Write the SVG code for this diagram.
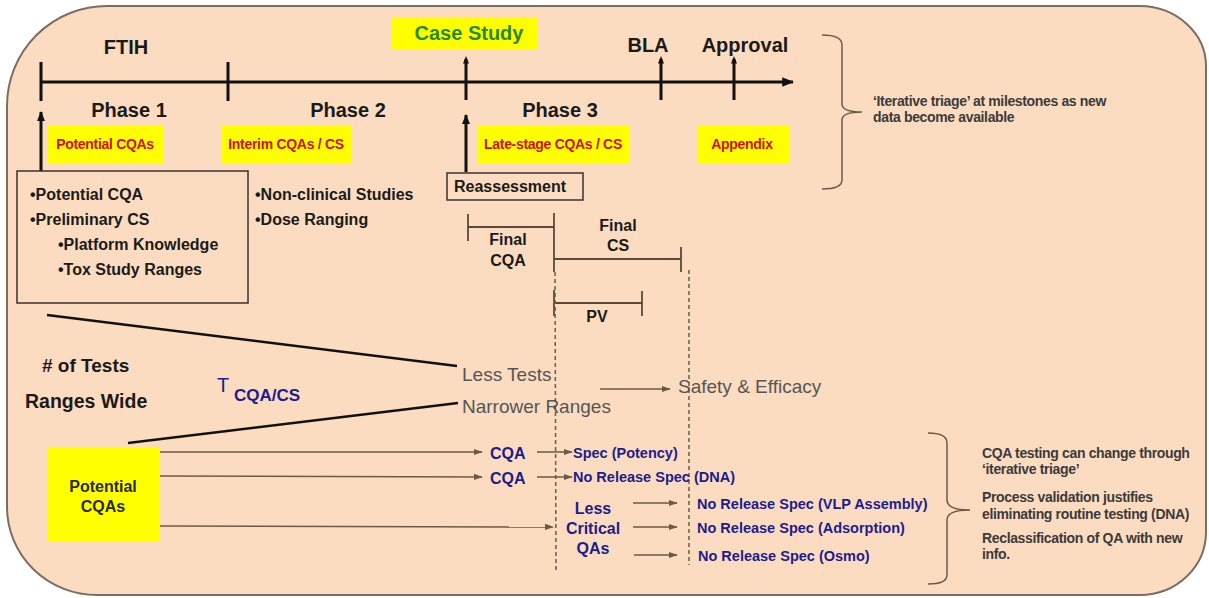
<svg xmlns="http://www.w3.org/2000/svg" width="1209" height="598" viewBox="0 0 1209 598">
<defs>
<style>
text{font-family:"Liberation Sans",Arial,sans-serif}
.b{font-weight:bold}
.blk{fill:#1a1a1a}
.red{fill:#d01010;font-weight:bold;font-size:14px;letter-spacing:-0.3px}
.blue{fill:#1c1c8c;font-weight:bold}
.gray{fill:#555;font-size:19px}
.note{fill:#3a3a3a;font-weight:bold;font-size:14px;letter-spacing:-0.35px}
.yel{fill:#ffff00}
.tl{stroke:#111;stroke-width:3;fill:none}
.br{stroke:#5a4838;stroke-width:1.8;fill:none}
.th{stroke:#6b5a48;stroke-width:1.5;fill:none}
.dash{stroke:#6b5a48;stroke-width:1.5;stroke-dasharray:4 3;fill:none}
.brace{stroke:#6b5a48;stroke-width:1.5;fill:none}
</style>
<marker id="aBig" viewBox="0 0 10 10" refX="9" refY="5" markerWidth="4" markerHeight="4" orient="auto" markerUnits="strokeWidth"><path d="M0,1 L10,5 L0,9 Z" fill="#111"/></marker>
<marker id="aUp" viewBox="0 0 10 10" refX="9" refY="5" markerWidth="3.3" markerHeight="3.3" orient="auto" markerUnits="strokeWidth"><path d="M0,1 L10,5 L0,9 Z" fill="#111"/></marker>
<marker id="aDot" viewBox="0 0 10 10" refX="6" refY="5" markerWidth="2.5" markerHeight="2.5" orient="auto" markerUnits="strokeWidth"><path d="M0,1 L10,5 L0,9 Z" fill="#111"/></marker>
<marker id="aThin" viewBox="0 0 10 10" refX="9" refY="5" markerWidth="6" markerHeight="6" orient="auto" markerUnits="strokeWidth"><path d="M0,1.5 L10,5 L0,8.5 Z" fill="#6b5a48"/></marker>
</defs>

<path id="bg" d="M107,6 H1140 A67,60 0 0 1 1206,66 V532 A66,63 0 0 1 1140,595 H97 A90,88 0 0 1 7,507 V106 A100,100 0 0 1 107,6 Z" fill="#fcdcc0" stroke="#7a6e62" stroke-width="2"/>

<g id="connectors">
  <line class="tl" x1="40" y1="82" x2="793" y2="82" marker-end="url(#aBig)"/>
  <line class="tl" x1="41" y1="62" x2="41" y2="101"/>
  <line class="tl" x1="228" y1="62" x2="228" y2="101"/>
  <line class="tl" x1="466" y1="100" x2="466" y2="59" marker-end="url(#aDot)"/>
  <line class="tl" x1="661" y1="100" x2="661" y2="59" marker-end="url(#aDot)"/>
  <line class="tl" x1="734" y1="100" x2="734" y2="59" marker-end="url(#aDot)"/>
  <line class="tl" x1="41" y1="171" x2="41" y2="112" marker-end="url(#aUp)"/>
  <line class="tl" x1="466" y1="172" x2="466" y2="115" marker-end="url(#aUp)"/>
  <line class="br" x1="468" y1="227" x2="554" y2="227"/>
  <line class="br" x1="468" y1="214" x2="468" y2="241"/>
  <line class="br" x1="554" y1="213" x2="554" y2="272"/>
  <line class="br" x1="554" y1="259" x2="681" y2="259"/>
  <line class="br" x1="681" y1="247" x2="681" y2="272"/>
  <line class="br" x1="554" y1="290" x2="554" y2="316"/>
  <line class="br" x1="554" y1="303" x2="642" y2="303"/>
  <line class="br" x1="642" y1="291" x2="642" y2="316"/>
  <line class="dash" x1="555" y1="272" x2="556" y2="570"/>
  <line class="dash" x1="689" y1="270" x2="689" y2="565"/>
  <line x1="47" y1="315" x2="457" y2="366" stroke="#111" stroke-width="2.5"/>
  <line x1="128" y1="443" x2="458" y2="403" stroke="#111" stroke-width="2.5"/>
  <line class="th" x1="600" y1="389" x2="670" y2="389" marker-end="url(#aThin)"/>
  <line class="th" x1="160" y1="452" x2="482" y2="452" marker-end="url(#aThin)"/>
  <line class="th" x1="160" y1="476" x2="482" y2="477" marker-end="url(#aThin)"/>
  <line class="th" x1="160" y1="526" x2="553" y2="527" marker-end="url(#aThin)"/>
  <line class="th" x1="537" y1="452" x2="572" y2="452" marker-end="url(#aThin)"/>
  <line class="th" x1="537" y1="477" x2="572" y2="477" marker-end="url(#aThin)"/>
  <line class="th" x1="633" y1="503" x2="677" y2="503" marker-end="url(#aThin)"/>
  <line class="th" x1="633" y1="527" x2="677" y2="527" marker-end="url(#aThin)"/>
  <line class="th" x1="634" y1="555" x2="677" y2="555" marker-end="url(#aThin)"/>
  <path class="brace" d="M822,35 Q842,35 842,45 V104 Q842,112 862,112 Q842,112 842,120 V180 Q842,189 822,189"/>
  <path class="brace" d="M928,433 Q947,433 947,443 V500 Q947,510 970,510 Q947,510 947,520 V575 Q947,584 928,584"/>
</g>

<g id="milestones">
  <text class="b blk" x="126" y="54" font-size="20" text-anchor="middle">FTIH</text>
  <rect class="yel" x="392" y="17" width="146" height="33"/>
  <text class="b" x="469" y="40" font-size="20" text-anchor="middle" fill="#2a8a2a">Case Study</text>
  <text class="b blk" x="648" y="52" font-size="20" text-anchor="middle">BLA</text>
  <text class="b blk" x="745" y="52" font-size="20" text-anchor="middle">Approval</text>
  <text class="b blk" x="129" y="117" font-size="20" text-anchor="middle">Phase 1</text>
  <text class="b blk" x="348" y="117" font-size="20" text-anchor="middle">Phase 2</text>
  <text class="b blk" x="560" y="117" font-size="20" text-anchor="middle">Phase 3</text>
</g>

<g id="phase-labels">
  <rect class="yel" x="47" y="125" width="116" height="38"/>
  <text class="red" x="105" y="149" text-anchor="middle">Potential CQAs</text>
  <rect class="yel" x="222" y="125" width="130" height="38"/>
  <text class="red" x="286" y="149" text-anchor="middle">Interim CQAs / CS</text>
  <rect class="yel" x="477" y="125" width="153" height="38"/>
  <text class="red" x="553" y="149" text-anchor="middle">Late-stage CQAs / CS</text>
  <rect class="yel" x="697" y="125" width="93" height="38"/>
  <text class="red" x="742" y="149" text-anchor="middle">Appendix</text>
</g>

<g id="phase1-box">
  <rect x="17" y="171" width="231" height="132" fill="none" stroke="#3a3030" stroke-width="1.5"/>
  <text class="b blk" font-size="16"><tspan x="30" y="200">•Potential CQA</tspan><tspan x="30" y="225">•Preliminary CS</tspan><tspan x="58" y="250">•Platform Knowledge</tspan><tspan x="58" y="275">•Tox Study Ranges</tspan></text>
</g>

<g id="phase2-notes">
  <text class="b blk" font-size="16"><tspan x="255" y="200">•Non-clinical Studies</tspan><tspan x="255" y="225">•Dose Ranging</tspan></text>
</g>

<g id="reassessment">
  <rect x="447" y="173" width="136" height="27" fill="none" stroke="#3a3030" stroke-width="1.5"/>
  <text class="b blk" x="454" y="192" font-size="16">Reassessment</text>
</g>

<g id="final-labels">
  <text class="b blk" font-size="16" text-anchor="middle"><tspan x="508" y="245">Final</tspan><tspan x="508" y="266">CQA</tspan></text>
  <text class="b blk" font-size="16" text-anchor="middle"><tspan x="618" y="231">Final</tspan><tspan x="618" y="251">CS</tspan></text>
  <text class="b blk" x="597" y="322" font-size="16" text-anchor="middle">PV</text>
</g>

<g id="funnel">
  <text class="b blk" x="42" y="372" font-size="19"># of Tests</text>
  <text class="b blk" x="25" y="408" font-size="19.5">Ranges Wide</text>
  <text x="217" y="392" font-size="20" fill="#1c1c8c">T</text>
  <text class="blue" x="234" y="401" font-size="17">CQA/CS</text>
  <text class="gray" x="462" y="381">Less Tests</text>
  <text class="gray" x="462" y="413">Narrower Ranges</text>
  <text class="gray" x="678" y="393">Safety &amp; Efficacy</text>
</g>

<g id="potential-cqas">
  <rect class="yel" x="47" y="447" width="113" height="95"/>
  <text class="b" fill="#2a2a2a" font-size="16" text-anchor="middle"><tspan x="103" y="492">Potential</tspan><tspan x="103" y="512">CQAs</tspan></text>
</g>

<g id="outcomes">
  <text class="blue" x="490" y="459" font-size="16">CQA</text>
  <text class="blue" x="490" y="484" font-size="16">CQA</text>
  <text class="blue" x="573" y="458" font-size="14.5">Spec (Potency)</text>
  <text class="blue" x="573" y="482" font-size="14.5">No Release Spec (DNA)</text>
  <text class="blue" font-size="16" text-anchor="middle"><tspan x="593" y="514">Less</tspan><tspan x="593" y="534">Critical</tspan><tspan x="593" y="554">QAs</tspan></text>
  <text class="blue" x="697" y="509" font-size="14.5">No Release Spec (VLP Assembly)</text>
  <text class="blue" x="697" y="533" font-size="14.5">No Release Spec (Adsorption)</text>
  <text class="blue" x="698" y="561" font-size="14.5">No Release Spec (Osmo)</text>
</g>

<g id="notes">
  <text class="note"><tspan x="873" y="106">‘Iterative triage’ at milestones as new</tspan><tspan x="873" y="122">data become available</tspan></text>
  <text class="note"><tspan x="982" y="458">CQA testing can change through</tspan><tspan x="982" y="474">‘iterative triage’</tspan><tspan x="982" y="502">Process validation justifies</tspan><tspan x="982" y="519">eliminating routine testing (DNA)</tspan><tspan x="982" y="543">Reclassification of QA with new</tspan><tspan x="982" y="559">info.</tspan></text>
</g>
</svg>
